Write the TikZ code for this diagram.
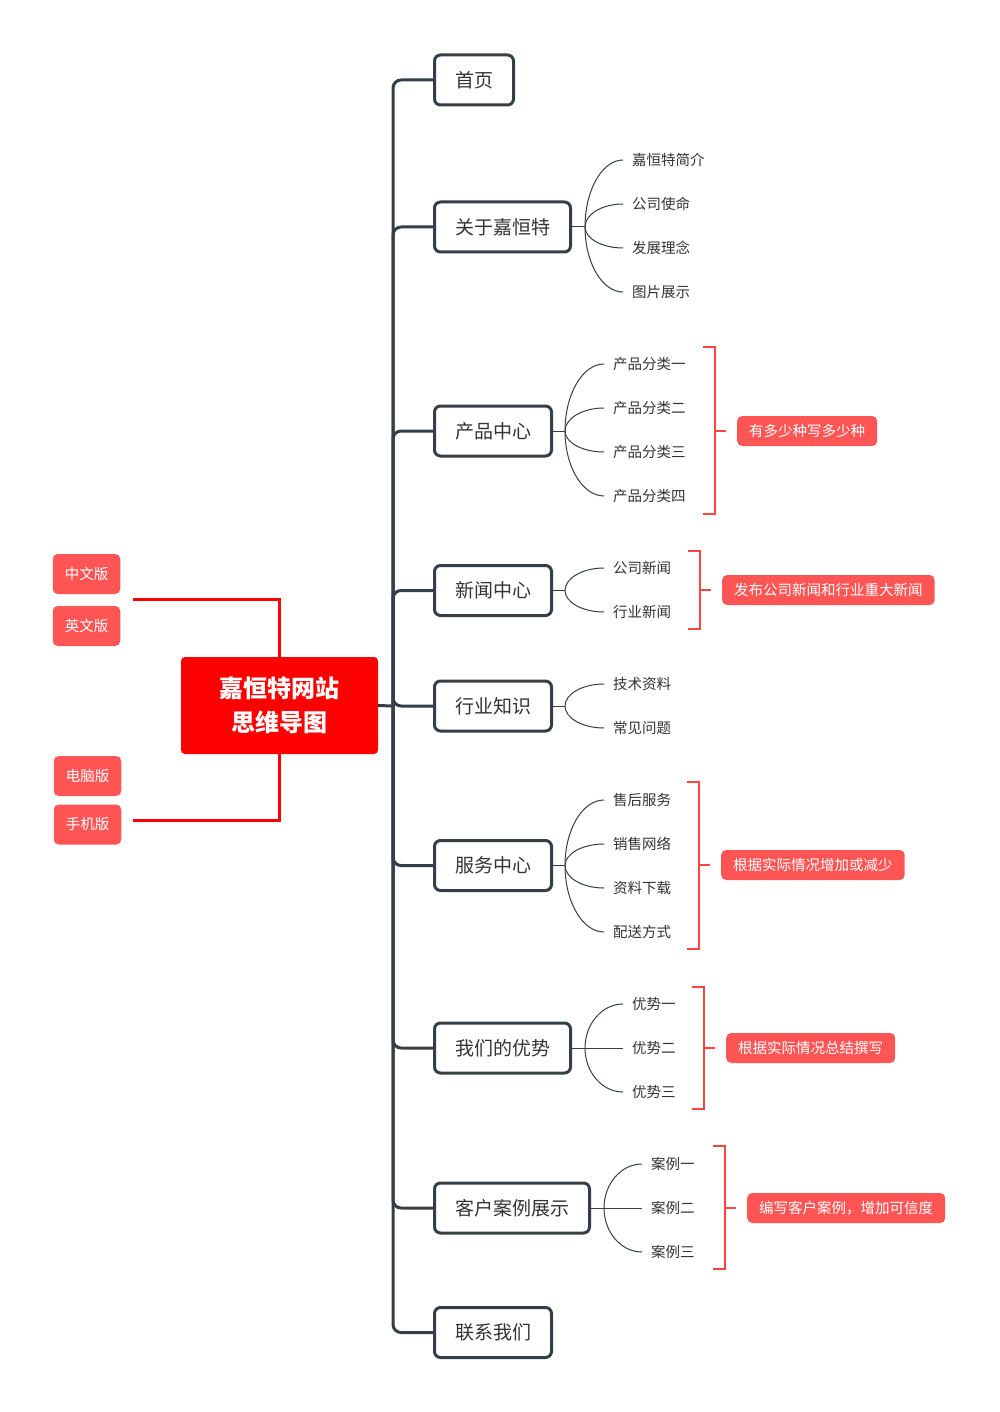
\documentclass[tikz,border=0pt]{standalone}
\usepackage{fontspec}
\setmainfont{Noto Sans CJK SC}
\usetikzlibrary{positioning, calc}
\definecolor{trunkgray}{HTML}{363E47}
\definecolor{textgray}{HTML}{333333}
\definecolor{rootred}{HTML}{FF0000}
\definecolor{tagred}{HTML}{FF5555}
\definecolor{bracered}{HTML}{FF4444}
\tikzset{
  x=1pt, y=-1pt,
  topic/.style={draw=trunkgray, line width=3pt, rounded corners=6pt, fill=white, anchor=west,
    minimum height=50pt, inner xsep=20.5pt, text=textgray, font=\fontsize{19}{23}\selectfont}, % main branches
  leaf/.style={anchor=west, inner xsep=9pt, inner ysep=2pt, text=textgray, font=\fontsize{14.5}{17}\selectfont},
  tag/.style={fill=tagred, rounded corners=5pt, minimum height=30pt, inner xsep=12pt, text=white,
    font=\fontsize{14.5}{17}\selectfont},
  trunk/.style={draw=trunkgray, line width=3pt, rounded corners=8pt},
  twig/.style={draw=trunkgray, line width=1pt},
  brace/.style={draw=bracered, line width=1.6pt},
  rootline/.style={draw=rootred, line width=3pt},
}
\newcommand{\twigto}[2]{\draw[twig] (#1) .. controls ($(#1)!0.55!(#1 |- #2.west)$) and ($(#1 |- #2.west)!0.45!(#2.west)$) .. (#2.west);}

\begin{document}
\begin{tikzpicture}
  \fill[white] (0,0) rectangle (1000,1412);
  \useasboundingbox (0,0) rectangle (1000,1412);

  % centre
  \node[fill=rootred, rounded corners=4pt, minimum width=197pt, minimum height=97pt, align=center,
    text=white, font=\bfseries\fontsize{24}{34}\selectfont] (root) at (279.5,705.5) {嘉恒特网站\\思维导图};

  % left side
  \node[tag, minimum width=67pt, minimum height=40pt] (zh) at (86.5,574) {中文版};
  \node[tag, minimum width=67pt, minimum height=40pt] (en) at (86.5,626) {英文版};
  \node[tag, minimum width=67pt, minimum height=40pt] (pc) at (87.5,776) {电脑版};
  \node[tag, minimum width=67pt, minimum height=40pt] (mobile) at (87.5,824.5) {手机版};
  \coordinate (upend) at (133,599);
  \coordinate (downend) at (133,820);
  \draw[rootline] (root.north) |- (upend);
  \draw[rootline] (root.south) |- (downend);

  % main topics
  \node[topic] (home) at (433,80) {首页};
  \node[topic] (about) at (433,227) {关于嘉恒特};
  \node[topic] (product) at (433,431) {产品中心};
  \node[topic] (news) at (433,590.5) {新闻中心};
  \node[topic] (know) at (433,706) {行业知识};
  \node[topic] (service) at (433,865.5) {服务中心};
  \node[topic] (advantage) at (433,1048) {我们的优势};
  \node[topic] (cases) at (433,1208) {客户案例展示};
  \node[topic] (contact) at (433,1332.5) {联系我们};

  \coordinate (hub) at (393,706);
  \draw[trunk] (root.east) -- (hub);
  \foreach \t in {home, about, product, news, know, service, advantage, cases, contact}
    \draw[trunk] (hub) |- (\t.west);

  % sub topics
  \coordinate (aboutj) at ([xshift=13pt]about.east);
  \draw[twig] (about.east) -- (aboutj);
  \foreach \s [count=\i] in {嘉恒特简介, 公司使命, 发展理念, 图片展示} {
    \node[leaf] (about-\i) at (623,116+44*\i) {\s};
    \twigto{aboutj}{about-\i}
  }

  \coordinate (productj) at ([xshift=12pt]product.east);
  \draw[twig] (product.east) -- (productj);
  \foreach \s [count=\i] in {产品分类一, 产品分类二, 产品分类三, 产品分类四} {
    \node[leaf] (product-\i) at (604,320+44*\i) {\s};
    \twigto{productj}{product-\i}
  }

  \coordinate (newsj) at ([xshift=12pt]news.east);
  \draw[twig] (news.east) -- (newsj);
  \foreach \s [count=\i] in {公司新闻, 行业新闻} {
    \node[leaf] (news-\i) at (604,524+44*\i) {\s};
    \twigto{newsj}{news-\i}
  }

  \coordinate (knowj) at ([xshift=12pt]know.east);
  \draw[twig] (know.east) -- (knowj);
  \foreach \s [count=\i] in {技术资料, 常见问题} {
    \node[leaf] (know-\i) at (604,640+44*\i) {\s};
    \twigto{knowj}{know-\i}
  }

  \coordinate (servicej) at ([xshift=12pt]service.east);
  \draw[twig] (service.east) -- (servicej);
  \foreach \s [count=\i] in {售后服务, 销售网络, 资料下载, 配送方式} {
    \node[leaf] (service-\i) at (604,756+44*\i) {\s};
    \twigto{servicej}{service-\i}
  }

  \coordinate (advantagej) at ([xshift=13pt]advantage.east);
  \draw[twig] (advantage.east) -- (advantagej);
  \foreach \s [count=\i] in {优势一, 优势二, 优势三} {
    \node[leaf] (advantage-\i) at (623,960+44*\i) {\s};
    \twigto{advantagej}{advantage-\i}
  }

  \coordinate (casesj) at ([xshift=13pt]cases.east);
  \draw[twig] (cases.east) -- (casesj);
  \foreach \s [count=\i] in {案例一, 案例二, 案例三} {
    \node[leaf] (cases-\i) at (642,1120+44*\i) {\s};
    \twigto{casesj}{cases-\i}
  }

  % brackets and notes
  \foreach \xb/\yt/\yb/\ym/\n/\s in {
      715/347/514/431/producttag/有多少种写多少种,
      700/551/629/590/newstag/发布公司新闻和行业重大新闻,
      699/782/949/865/servicetag/根据实际情况增加或减少,
      704/987/1109/1048/advantagetag/根据实际情况总结撰写,
      725/1146/1269/1208/casestag/编写客户案例，增加可信度} {
    \draw[brace] (\xb-12,\yt) -- (\xb,\yt) -- (\xb,\yb) -- (\xb-12,\yb);
    \node[tag, anchor=west] (\n) at (\xb+22,\ym) {\s};
    \draw[brace] (\n.west -| \xb,0) -- ([xshift=-11pt]\n.west);
  }
\end{tikzpicture}
\end{document}
